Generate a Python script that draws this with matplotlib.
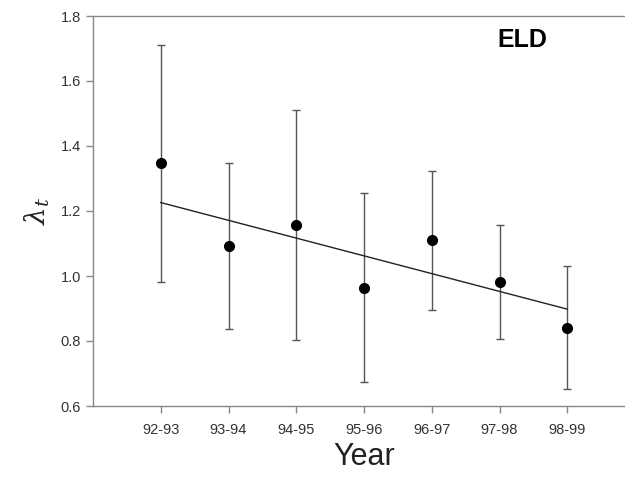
"""Annual population growth rate (lambda_t) with 95% CI and linear trend, ELD."""

import numpy as np
import matplotlib
matplotlib.use("Agg")
import matplotlib.pyplot as plt

plt.rcParams.update({
    "font.family": ["Liberation Sans", "DejaVu Sans"],
    "mathtext.fontset": "dejavuserif",
})

# ── Data ───────────────────────────────────────────────────────────────────
years = ["92-93", "93-94", "94-95", "95-96", "96-97", "97-98", "98-99"]
lam = [1.348, 1.093, 1.156, 0.964, 1.110, 0.982, 0.841]
ci_upper = [1.711, 1.347, 1.510, 1.254, 1.323, 1.156, 1.031]
ci_lower = [0.982, 0.838, 0.803, 0.674, 0.895, 0.807, 0.653]
trend_ends = [1.226, 0.898]   # fitted line at first and last year

x = np.arange(1, len(years) + 1)
lam = np.array(lam)
yerr = np.vstack([lam - np.array(ci_lower), np.array(ci_upper) - lam])

# ── Plot ───────────────────────────────────────────────────────────────────
fig = plt.figure(figsize=(6.25, 4.82), dpi=100)
ax = fig.add_axes([93 / 625, 76 / 482, 542 / 625, 390 / 482])

ax.errorbar(x, lam, yerr=yerr, fmt="none", ecolor="#555555",
            elinewidth=1.0, capsize=3, capthick=1.0, zorder=2)
ax.plot([x[0], x[-1]], trend_ends, color="#222222", linewidth=1.0, zorder=3)
ax.plot(x, lam, "o", color="black", markersize=7, zorder=4)

ax.set_xlim(0, 8)
ax.set_ylim(0.6, 1.8)
ax.set_xticks(x)
ax.set_xticklabels(years)
ax.set_yticks(np.arange(0.6, 1.81, 0.2))
ax.set_yticklabels([f"{v:.1f}" for v in np.arange(0.6, 1.81, 0.2)])

for side in ("left", "bottom", "top"):
    ax.spines[side].set_color("#888888")
    ax.spines[side].set_linewidth(1.0)
ax.spines["right"].set_visible(False)

ax.tick_params(axis="both", direction="out", length=5, width=1.0,
               color="#888888", labelsize=10.5, labelcolor="#333333")
ax.tick_params(axis="x", pad=7)

ax.set_xlabel("Year", fontsize=22, color="#222222", labelpad=4)
ax.set_ylabel(r"$\lambda_t$", fontsize=20, color="#222222", labelpad=6)

fig.text(497 / 625, 1 - 40 / 482, "ELD", fontsize=18, fontweight="bold",
         ha="left", va="center")

fig.savefig("out.png", dpi=100)
plt.close(fig)
